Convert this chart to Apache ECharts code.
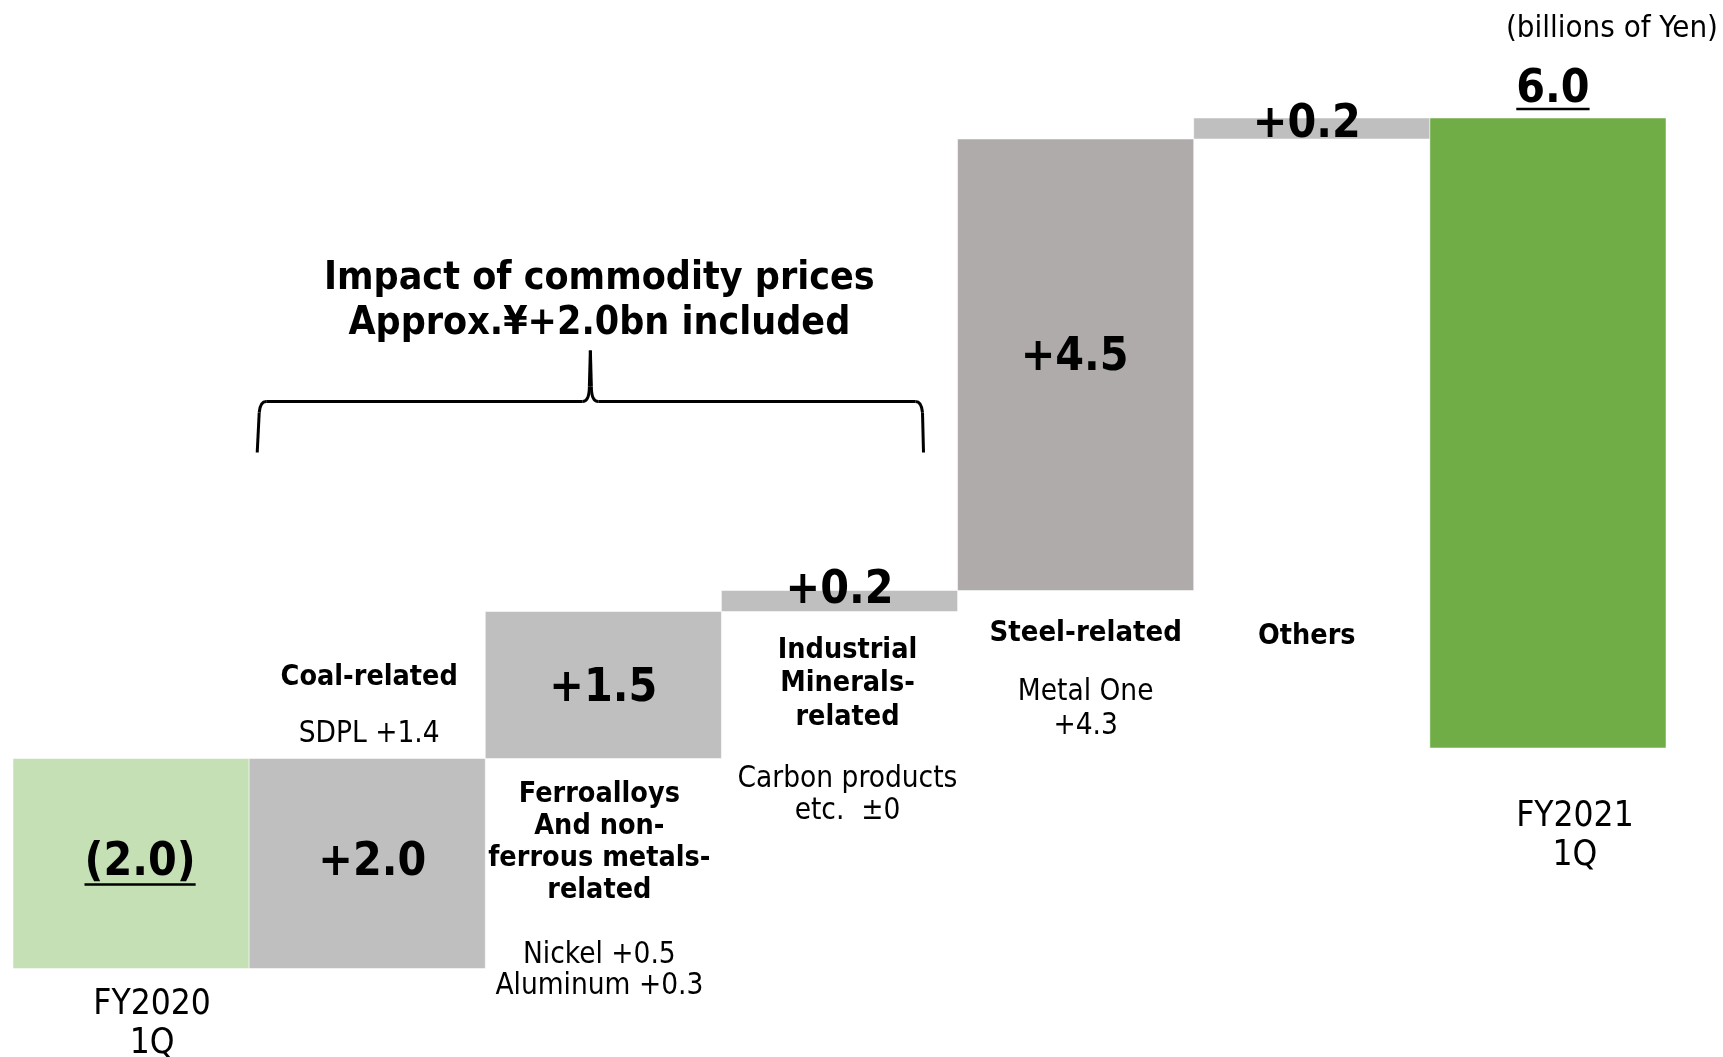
<!DOCTYPE html>
<html>
<head>
<meta charset="utf-8">
<script src="https://cdn.jsdelivr.net/npm/echarts@6/dist/echarts.min.js"></script>
<style>
  html, body { margin: 0; padding: 0; background: #fff; }
  #main { width: 1723px; height: 1057px; }
</style>
</head>
<body>
<div id="main"></div>
<script>
// ---- data ----
var categories = ['FY2020 1Q', 'Coal-related', 'Ferroalloys and non-ferrous metals-related',
  'Industrial Minerals-related', 'Steel-related', 'Others', 'FY2021 1Q'];
// label shown on each bar (billions of yen)
var valueLabels = ['(2.0)', '+2.0', '+1.5', '+0.2', '+4.5', '+0.2', '6.0'];
// where each bar starts / ends on the value axis, as drawn in the slide
var barStart = [-0.1, -2.1, -0.1, 1.3, 1.5, 5.8, 0];
var barEnd = [-2.1, -0.1, 1.3, 1.5, 5.8, 6.0, 6.0];
// text under / over each bar
var noteTitles = [['FY2020', '1Q'], ['Coal-related'], ['Ferroalloys', 'And non-', 'ferrous metals-', 'related'],
  ['Industrial', 'Minerals-', 'related'], ['Steel-related'], ['Others'], ['FY2021', '1Q']];
var noteDetails = [[], ['SDPL +1.4'], ['Nickel +0.5', 'Aluminum +0.3'], ['Carbon products', 'etc.  ±0'],
  ['Metal One', '+4.3'], [], []];
var unitText = '(billions of Yen)';
var braceText = ['Impact of commodity prices', 'Approx.¥+2.0bn included'];

// ---- look ----
var FONT = '"DejaVu Sans Condensed", "DejaVu Sans", sans-serif';
var barColors = ['#C5E0B4', '#BFBFBF', '#BFBFBF', '#BFBFBF', '#AFABAB', '#BFBFBF', '#70AD47'];
// value label placement: at = top | middle of the bar
var labelPos = [
  { at: 'middle', dx: 9, dy: 0, underline: 21 },
  { at: 'middle', dx: 5, dy: 0 },
  { at: 'middle', dx: 0, dy: 4 },
  { at: 'top', dx: 0, dy: 1 },
  { at: 'middle', dx: -1, dy: -7 },
  { at: 'top', dx: -5, dy: 7 },
  { at: 'top', dx: 5, dy: -28, underline: 19 }
];
// note placement (dy = centre of first line, measured from bar top/bottom)
var notePos = [
  { at: 'bottom', dx: 21, dy: 36, lh: 39, bold: false, size: 35 },
  { at: 'top', dx: 2, dy: -81, lh: 32, bold: true, size: 28.5, dDy: -24, dLh: 32 },
  { at: 'bottom', dx: -4, dy: 36, lh: 32, bold: true, size: 28.5, dDy: 197, dLh: 31 },
  { at: 'bottom', dx: 8, dy: 39, lh: 33.5, bold: true, size: 28.5, dDy: 168, dLh: 32 },
  { at: 'bottom', dx: 10, dy: 43, lh: 32, bold: true, size: 29, dDy: 102, dLh: 34 },
  { at: 'bottom', dx: -5, dy: 498, lh: 32, bold: true, size: 28.5 },
  { at: 'bottom', dx: 27, dy: 69, lh: 39, bold: false, size: 35 }
];

var measureCtx = document.createElement('canvas').getContext('2d');
function textWidth(t, font) {
  measureCtx.font = font;
  return measureCtx.measureText(t).width;
}

function renderItem(params, api) {
  var i = api.value(0);
  var p0 = api.coord([i, api.value(1)]);
  var p1 = api.coord([i, api.value(2)]);
  var band = api.size([1, 0])[0];
  var cx = p0[0];
  var top = Math.min(p0[1], p1[1]);
  var bottom = Math.max(p0[1], p1[1]);
  var children = [];

  children.push({
    type: 'rect',
    shape: { x: cx - band / 2, y: top, width: band, height: bottom - top },
    style: { fill: barColors[i], stroke: 'rgba(255,255,255,0.5)', lineWidth: 1 }
  });

  // value label
  var L = labelPos[i];
  var ly = (L.at === 'top' ? top : (top + bottom) / 2) + L.dy;
  children.push({
    type: 'text', x: cx + L.dx, y: ly,
    style: {
      text: valueLabels[i], fill: '#000', fontFamily: FONT, fontWeight: 'bold', fontSize: 46,
      align: 'center', verticalAlign: 'middle'
    }
  });
  if (L.underline) {
    var w = textWidth(valueLabels[i], 'bold 46px ' + FONT);
    children.push({
      type: 'line',
      shape: { x1: cx + L.dx - w / 2, y1: ly + L.underline, x2: cx + L.dx + w / 2, y2: ly + L.underline },
      style: { stroke: '#000', lineWidth: 2.5 }
    });
  }

  // notes
  var N = notePos[i];
  var base = N.at === 'top' ? top : bottom;
  children.push({
    type: 'text', x: cx + N.dx, y: base + N.dy - N.lh / 2,
    style: {
      text: noteTitles[i].join('\n'), fill: '#000', fontFamily: FONT,
      fontWeight: N.bold ? 'bold' : 'normal', fontSize: N.size, lineHeight: N.lh,
      align: 'center', verticalAlign: 'top'
    }
  });
  if (noteDetails[i].length) {
    children.push({
      type: 'text', x: cx + N.dx, y: base + N.dDy - N.dLh / 2,
      style: {
        text: noteDetails[i].join('\n'), fill: '#000', fontFamily: FONT,
        fontWeight: 'normal', fontSize: 29.5, lineHeight: N.dLh,
        align: 'center', verticalAlign: 'top'
      }
    });
  }
  return { type: 'group', children: children };
}

var chart = echarts.init(document.getElementById('main'));
var option = {
  animation: false,
  title: {
    text: unitText, right: 0, top: 8,
    textStyle: { fontFamily: FONT, fontWeight: 'normal', fontSize: 31, color: '#000' }
  },
  grid: { left: 13, right: 57, top: 97, bottom: 78 },
  xAxis: { type: 'category', data: categories, show: false },
  yAxis: { type: 'value', min: -2.2, max: 6.2, show: false },
  series: [{
    type: 'custom',
    renderItem: renderItem,
    data: categories.map(function (c, i) { return [i, barStart[i], barEnd[i]]; })
  }]
};
chart.setOption(option);

// brace + its caption over the commodity-related bars
var left = chart.convertToPixel({ xAxisIndex: 0 }, 1) - 110;
var right = chart.convertToPixel({ xAxisIndex: 0 }, 3) + 84;
var mid = chart.convertToPixel({ xAxisIndex: 0 }, 2) - 13;
var yLine = chart.convertToPixel({ yAxisIndex: 0 }, 3.3);
var yEnd = yLine + 51;
var yTip = yLine - 51;

var braceStyle = { stroke: '#000', lineWidth: 3, fill: null };
function seg(x1, y1, x2, y2) {
  return { type: 'line', shape: { x1: x1, y1: y1, x2: x2, y2: y2 }, style: braceStyle };
}
function curve(x1, y1, cx, cy, x2, y2) {
  return { type: 'bezierCurve', shape: { x1: x1, y1: y1, cpx1: cx, cpy1: cy, x2: x2, y2: y2 }, style: braceStyle };
}
var brace = [
  seg(left, yEnd, left + 2, yLine + 11),
  curve(left + 2, yLine + 11, left + 3, yLine, left + 9, yLine),
  seg(left + 9, yLine, mid - 8, yLine),
  curve(mid - 8, yLine, mid - 1, yLine, mid - 1, yLine - 15),
  seg(mid - 1, yLine - 15, mid, yTip),
  seg(mid, yTip, mid + 1, yLine - 15),
  curve(mid + 1, yLine - 15, mid + 1, yLine, mid + 8, yLine),
  seg(mid + 8, yLine, right - 8, yLine),
  curve(right - 8, yLine, right - 2, yLine, right - 1, yLine + 11),
  seg(right - 1, yLine + 11, right, yEnd)
];

chart.setOption({
  graphic: brace.concat([
    {
      type: 'text', x: mid + 9, y: yTip - 94,
      style: {
        text: braceText.join('\n'), fill: '#000', fontFamily: FONT, fontWeight: 'bold',
        fontSize: 39, lineHeight: 45, align: 'center', verticalAlign: 'top'
      }
    }
  ])
});
</script>
</body>
</html>
